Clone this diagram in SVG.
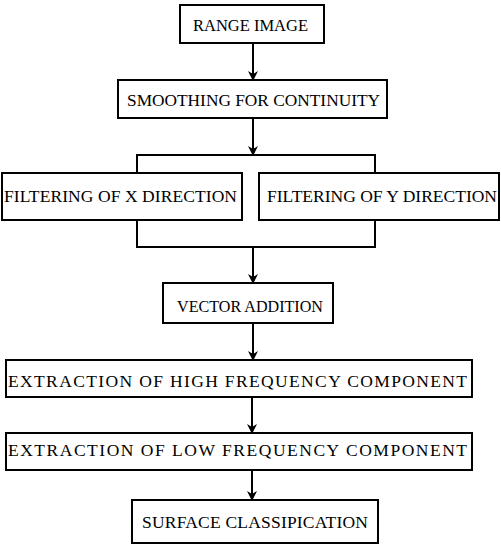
<svg xmlns="http://www.w3.org/2000/svg" width="501" height="547" viewBox="0 0 501 547">
<style>
.box{fill:#fff;stroke:#000;stroke-width:2}
.t{font-family:"Liberation Serif","Times New Roman",serif;font-size:17.5px;fill:#000}
.c{fill:none;stroke:#000;stroke-width:2}
</style>
<defs>
<marker id="ah" markerWidth="10" markerHeight="10" refX="9" refY="5" orient="auto" markerUnits="userSpaceOnUse">
<path d="M0,0 L10,5 L0,10 L3,5 Z" fill="#000"/>
</marker>
</defs>
<rect width="501" height="547" fill="#fff"/>
<g id="connectors">
<line class="c" x1="253" y1="43" x2="253" y2="80" marker-end="url(#ah)"/>
<line class="c" x1="253" y1="118" x2="253" y2="155" marker-end="url(#ah)"/>
<polyline class="c" points="137,173 137,155 375,155 375,173"/>
<polyline class="c" points="137,220 137,247 375,247 375,220"/>
<line class="c" x1="253" y1="247" x2="253" y2="283" marker-end="url(#ah)"/>
<line class="c" x1="253" y1="323" x2="253" y2="360" marker-end="url(#ah)"/>
<line class="c" x1="252" y1="397" x2="252" y2="433" marker-end="url(#ah)"/>
<line class="c" x1="252" y1="470" x2="252" y2="500" marker-end="url(#ah)"/>
</g>
<g id="range"><rect class="box" x="180" y="5" width="144" height="38"/><text class="t" x="193" y="30.5" textLength="115" lengthAdjust="spacingAndGlyphs">RANGE IMAGE</text></g>
<g id="smooth"><rect class="box" x="118" y="80" width="269" height="38"/><text class="t" x="127" y="106" textLength="253" lengthAdjust="spacingAndGlyphs">SMOOTHING FOR CONTINUITY</text></g>
<g id="filterx"><rect class="box" x="2" y="173" width="240" height="47"/><text class="t" x="4" y="202" textLength="233" lengthAdjust="spacing">FILTERING OF  X DIRECTION</text></g>
<g id="filtery"><rect class="box" x="259" y="173" width="240" height="47"/><text class="t" x="267" y="202" textLength="230" lengthAdjust="spacing">FILTERING OF Y DIRECTION</text></g>
<g id="vector"><rect class="box" x="163" y="283" width="170" height="40"/><text class="t" x="177" y="312" textLength="146" lengthAdjust="spacingAndGlyphs">VECTOR ADDITION</text></g>
<g id="high"><rect class="box" x="6" y="360" width="466" height="37"/><text class="t" x="8" y="387" textLength="459" lengthAdjust="spacing">EXTRACTION OF HIGH FREQUENCY COMPONENT</text></g>
<g id="low"><rect class="box" x="6" y="433" width="466" height="37"/><text class="t" x="8" y="456" textLength="459" lengthAdjust="spacing">EXTRACTION OF LOW FREQUENCY COMPONENT</text></g>
<g id="surface"><rect class="box" x="132" y="500" width="246" height="43"/><text class="t" x="142" y="528" textLength="226" lengthAdjust="spacing">SURFACE CLASSIPICATION</text></g>
</svg>
